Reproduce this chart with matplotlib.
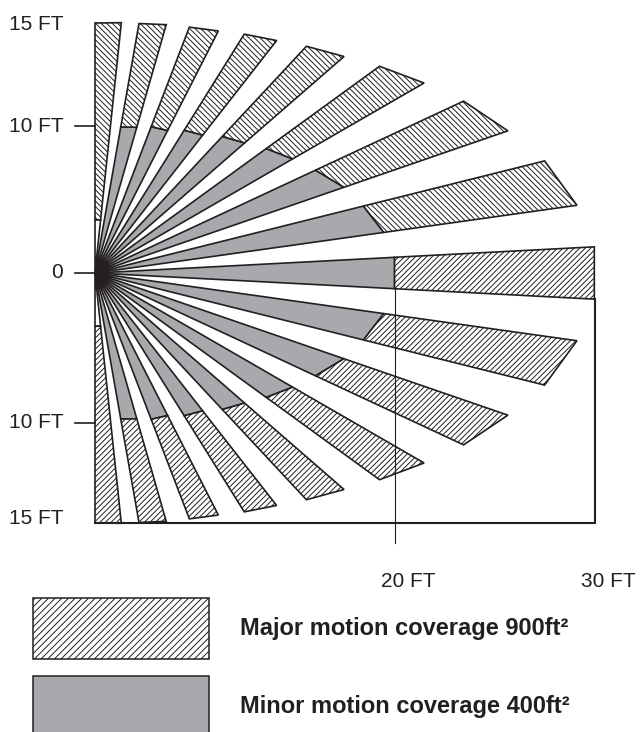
import numpy as np
import matplotlib
matplotlib.use("Agg")
import matplotlib.pyplot as plt
from matplotlib.patches import Polygon, Patch

INK = "#231f20"
GRAY = "#a7a9ac"

plt.rcParams["font.family"] = ["Liberation Sans", "DejaVu Sans"]
plt.rcParams["hatch.linewidth"] = 0.7
plt.rcParams["hatch.color"] = INK

# ==========================
# beam data (upper half, lower half is the mirror image)
# units: drawing feet, sensor at (0, 0)
# "near" = edge nearer the 0 deg axis, "far" = edge nearer the wall
# ==========================
beam_angle = [0, 11, 22, 33, 44, 55, 66, 77, 87]
minor_near = [18.0, 17.5, 15.8, 13.7, 11.9, 10.5, 9.6, 9.1, 3.2]
minor_far = [18.0, 16.6, 14.6, 12.7, 11.2, 10.1, 9.4, 8.9, 3.2]
major_near = [30.0, 29.2, 26.2, 22.8, 19.8, 17.7, 16.3, 15.5, 15.1]
major_far = [30.0, 27.8, 24.4, 21.1, 18.6, 16.9, 15.8, 15.2, 15.0]
has_minor = [True, True, True, True, True, True, True, True, False]
half_width = 3

# axis labels
y_tick_pos = [8.8, 0, -9.0]
y_tick_text = ["10 FT", "0", "10 FT"]
y_edge_pos = [14.9, -14.7]
y_edge_text = ["15 FT", "15 FT"]
x_label_pos = [18.8, 30.8]
x_label_text = ["20 FT", "30 FT"]

legend_text = ["Major motion coverage 900ft\u00b2",
               "Minor motion coverage 400ft\u00b2"]

fig = plt.figure(figsize=(6.41, 7.32), dpi=100)
ax = fig.add_axes([0, 0, 1, 1])
ax.set_xlim(-5.7, 32.76)
ax.set_ylim(-27.54, 16.38)
ax.axis("off")


def pt(r, a):
    return (r * np.cos(np.radians(a)), r * np.sin(np.radians(a)))


def draw_beam(theta, rn, rf, Rn, Rf, minor):
    s = 1 if theta >= 0 else -1
    a_near = theta - half_width * s
    a_far = theta + half_width * s
    inner = Polygon([(0, 0), pt(rn, a_near), pt(rf, a_far)],
                    closed=True, facecolor=GRAY if minor else "white",
                    edgecolor=INK, linewidth=1.2)
    ax.add_patch(inner)
    hatch = "\\\\\\\\\\\\" if theta > 0 else "//////"
    outer = Polygon([pt(rn, a_near), pt(Rn, a_near),
                     pt(Rf, a_far), pt(rf, a_far)],
                    closed=True, facecolor="white", hatch=hatch,
                    edgecolor=INK, linewidth=1.2)
    ax.add_patch(outer)


for i, th in enumerate(beam_angle):
    draw_beam(th, minor_near[i], minor_far[i],
              major_near[i], major_far[i], has_minor[i])
    if th > 0:
        draw_beam(-th, minor_near[i], minor_far[i],
                  major_near[i], major_far[i], has_minor[i])

# frame lines
ax.plot([0, 30, 30], [-15, -15, -1.57], color=INK, lw=1.5,
        solid_joinstyle="miter", zorder=5)
ax.plot([18, 18], [-0.95, -16.2], color=INK, lw=0.8, zorder=5)

# left ticks and labels
for y, t in zip(y_tick_pos, y_tick_text):
    ax.plot([-1.2, 0], [y, y], color=INK, lw=1.2)
    ax.text(-1.9, y, t, ha="right", va="center", fontsize=15, color=INK)
for y, t in zip(y_edge_pos, y_edge_text):
    ax.text(-1.9, y, t, ha="right", va="center", fontsize=15, color=INK)

for x, t in zip(x_label_pos, x_label_text):
    ax.text(x, -18.5, t, ha="center", va="center", fontsize=15, color=INK)

# legend
handles = [
    Patch(facecolor="white", edgecolor=INK, hatch="/////", linewidth=1.1),
    Patch(facecolor=GRAY, edgecolor=INK, linewidth=1.1),
]
leg = ax.legend(handles, legend_text, loc="upper left",
                bbox_to_anchor=(33 / 641, 1 - 598 / 732),
                bbox_transform=ax.transAxes,
                frameon=False, borderpad=0, borderaxespad=0,
                handlelength=7.46, handleheight=3.6,
                handletextpad=1.31, labelspacing=0.72,
                prop={"size": 17, "weight": "bold"})
for txt in leg.get_texts():
    txt.set_color(INK)

fig.savefig("out.png", dpi=100)
